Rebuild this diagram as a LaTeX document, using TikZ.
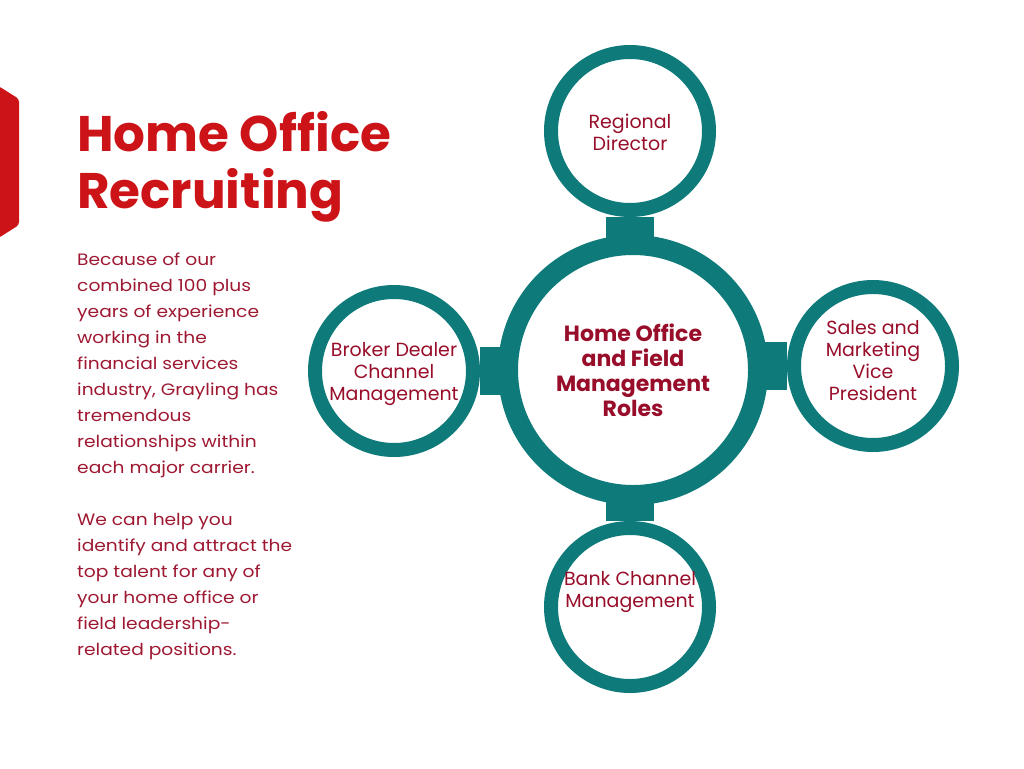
\documentclass[tikz,border=0pt]{standalone}
\usepackage{fontspec}
\setmainfont{Poppins}
\newfontfamily\bodyfont[FakeStretch=1.13]{Poppins}
\usetikzlibrary{backgrounds}
\definecolor{teal1}{RGB}{14,122,122}
\definecolor{titlered}{RGB}{204,20,24}
\definecolor{bodyred}{RGB}{158,24,50}
\definecolor{nodered}{RGB}{152,14,42}
\tikzset{
  bigring/.style={circle, draw=teal1, fill=white, line width=20pt, minimum size=250pt, inner sep=0pt, align=center, text=nodered, font=\bfseries\fontsize{22}{25}\selectfont},
  smallring/.style={circle, draw=teal1, fill=white, line width=14pt, minimum size=158pt, inner sep=0pt},
  ringtext/.style={align=center, text=nodered, inner sep=0pt, font=\fontsize{19}{22}\selectfont},
  conn/.style={draw=teal1, line width=48pt},
  bodytext/.style={anchor=north west, inner sep=0pt, align=left, text=bodyred, font=\bodyfont\fontsize{16.5}{26}\selectfont},
}
\begin{document}
\begin{tikzpicture}[x=1pt,y=-1pt]
\useasboundingbox (0,0) rectangle (1024,768);
% red tab
\fill[titlered, rounded corners=3pt] (-6,84) -- (0,87) -- (19,99) -- (19,225) -- (0,237) -- (-6,240) -- cycle;
% title
\node[anchor=base west, inner sep=0pt, text=titlered, font=\bfseries\fontsize{50}{57}\selectfont, align=left] (title) at (77,151) {Home Office};
\node[anchor=base west, inner sep=0pt, text=titlered, font=\bfseries\fontsize{50}{57}\selectfont, align=left] (title2) at (77,208) {Recruiting};
% body
\node[bodytext] (p1) at (77,253) {Because of our\\combined 100 plus\\years of experience\\working in the\\financial services\\industry, Grayling has\\tremendous\\relationships within\\each major carrier.};
\node[bodytext] (p2) at (77,513) {We can help you\\identify and attract the\\top talent for any of\\your home office or\\field leadership-\\related positions.};
% rings
\node[bigring] (c) at (633,370) {Home Office\\and Field\\Management\\Roles};
\node[smallring, label={[ringtext, yshift=-1pt]center:{Regional\\Director}}] (top) at (630,131) {};
\node[smallring, label={[ringtext, yshift=-3pt]center:{Broker Dealer\\Channel\\Management}}] (left) at (394,371) {};
\node[smallring, label={[ringtext, yshift=5pt]center:{Sales and\\Marketing\\Vice\\President}}] (right) at (873,366) {};
\node[smallring, label={[ringtext, yshift=15pt]center:{Bank Channel\\Management}}] (bot) at (630,607) {};
\begin{pgfonlayer}{background}
\draw[conn] (top) -- (top |- c);
\draw[conn] (bot) -- (bot |- c);
\draw[conn] (left) -- (left -| c);
\draw[conn] (right) -- (right -| c);
\end{pgfonlayer}
\end{tikzpicture}
\end{document}
